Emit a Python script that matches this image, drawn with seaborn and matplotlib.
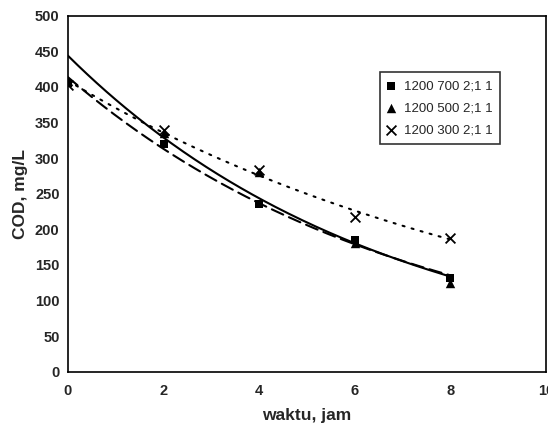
import numpy as np
import pandas as pd
import matplotlib
matplotlib.use("Agg")
import matplotlib.pyplot as plt
import seaborn as sns

time_h = [0, 2, 4, 6, 8]
series_names = ["1200 700 2;1 1", "1200 500 2;1 1", "1200 300 2;1 1"]
cod_700 = [405, 320, 235, 185, 132]
cod_500 = [408, 335, 280, 181, 124]
cod_300 = [403, 340, 283, 218, 188]
x_ticks = [0, 2, 4, 6, 8, 10]
y_ticks = [0, 50, 100, 150, 200, 250, 300, 350, 400, 450, 500]

sns.set_theme(style="white")
plt.rcParams["font.family"] = ["Liberation Sans", "DejaVu Sans"]

fig = plt.figure(figsize=(5.48, 4.23), dpi=100)
ax = fig.add_axes([0.124, 0.121, 0.872, 0.842])

df = pd.DataFrame({
    "t": time_h * 3,
    "cod": cod_700 + cod_500 + cod_300,
    "series": [series_names[0]] * 5 + [series_names[1]] * 5 + [series_names[2]] * 5,
})

# exponential trendlines (Excel-style) fitted to each series
line_styles = {series_names[0]: (0, (6, 3)), series_names[1]: "-", series_names[2]: (0, (1, 3.5))}
tt = np.linspace(0, 8, 200)
for name, vals in zip(series_names, [cod_700, cod_500, cod_300]):
    slope, icpt = np.polyfit(time_h, np.log(vals), 1)
    fit = pd.DataFrame({"t": tt, "cod": np.exp(icpt + slope * tt)})
    sns.lineplot(data=fit, x="t", y="cod", ax=ax, color="black", lw=1.5,
                 linestyle=line_styles[name], dash_capstyle="round", legend=False)

markers = {series_names[0]: "s", series_names[1]: "^", series_names[2]: "x"}
sizes = {series_names[0]: 40, series_names[1]: 46, series_names[2]: 50}
for name in series_names:
    sub = df[df["series"] == name]
    sns.scatterplot(data=sub, x="t", y="cod", ax=ax, marker=markers[name], color="black",
                    s=sizes[name], linewidth=1.3 if name == series_names[2] else 0,
                    edgecolor="black", label=name, zorder=5)

ax.set_xlim(0, 10)
ax.set_ylim(0, 500)
ax.set_xticks(x_ticks)
ax.set_yticks(y_ticks)
ax.set_xticklabels([str(v) for v in x_ticks], fontweight="bold", fontsize=10.5)
ax.set_yticklabels([str(v) for v in y_ticks], fontweight="bold", fontsize=10.5)
ax.tick_params(axis="both", direction="out", length=3, width=1, color="black", pad=3)
ax.tick_params(axis="x", pad=6)
for sp in ax.spines.values():
    sp.set_color("black")
    sp.set_linewidth(1.2)
ax.set_xlabel("waktu, jam", fontweight="bold", fontsize=12.5, labelpad=7)
ax.set_ylabel("COD, mg/L", fontweight="bold", fontsize=12.5, labelpad=5)

leg = ax.legend(loc="upper left", bbox_to_anchor=(0.652, 0.842), frameon=True, fancybox=False,
                edgecolor="black", fontsize=9.5, handletextpad=0.75, handlelength=0.5,
                borderpad=0.6, labelspacing=0.75, borderaxespad=0)
leg.get_frame().set_linewidth(1.2)

fig.savefig("out.png", dpi=100)
